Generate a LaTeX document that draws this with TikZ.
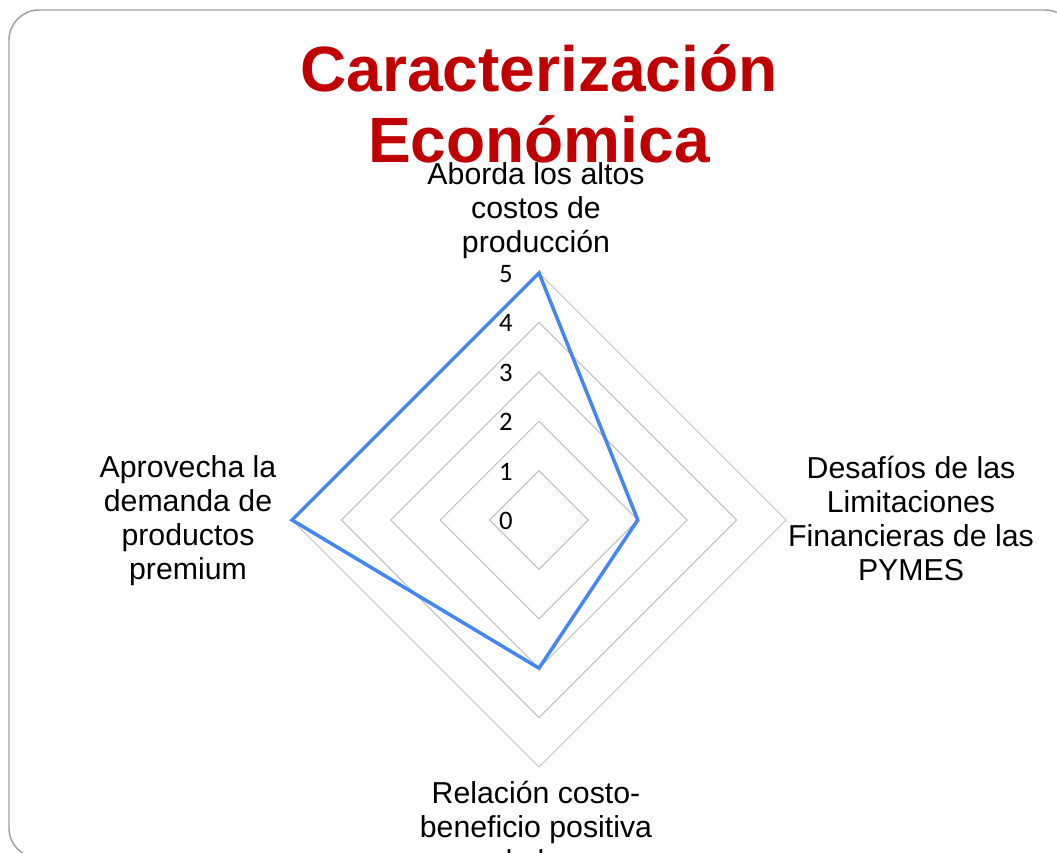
\documentclass[tikz,border=0pt]{standalone}
\usepackage{fontspec}
\setmainfont{Liberation Sans}
\newfontfamily\tickfont{Carlito}
\definecolor{titlered}{HTML}{C00000}
\definecolor{seriesblue}{HTML}{4285F4}
\definecolor{gridgray}{HTML}{BFBFBF}
\definecolor{framegray}{HTML}{A0A0A0}
\tikzset{
  frame/.style={draw=framegray, line width=1.1pt, rounded corners=22.5pt},
  titletext/.style={font=\fontsize{48}{53}\selectfont\bfseries, text=titlered, align=center, inner sep=0pt},
  gridline/.style={draw=gridgray, line width=0.75pt},
  series/.style={draw=seriesblue, line width=2.6pt, line join=miter},
  ticklabel/.style={font=\tickfont\fontsize{20}{22}\selectfont, anchor=east, inner sep=0pt},
  axlabel/.style={font=\fontsize{22.7}{25.5}\selectfont, align=center, inner sep=0pt}
}
\begin{document}
\begin{tikzpicture}[x=0.75pt,y=-0.75pt]
\useasboundingbox (0,0) rectangle (1057,853);
\clip (0,0) rectangle (1057,853);
\draw[frame] (9,10) rectangle (1075,858);
\node[titletext] (title) at (539,104) {Caracterización\\Económica};
\coordinate (c) at (539,520);
\foreach \k in {1,...,5}{
  \pgfmathsetmacro\r{49.4*\k}
  \draw[gridline] (539,{520-\r}) -- ({539+\r},520) -- (539,{520+\r}) -- ({539-\r},520) -- cycle;
}
\foreach \k in {0,...,5}{
  \node[ticklabel] (t\k) at (513,{521-49.4*\k}) {\k};
}
\coordinate (p1) at (539,{520-5*49.4});
\coordinate (p2) at ({539+2*49.4},520);
\coordinate (p3) at (539,{520+3*49.4});
\coordinate (p4) at ({539-5*49.4},520);
\draw[series] (p1) -- (p2) -- (p3) -- (p4) -- cycle;
\node[axlabel] (ltop) at (536,211) {Aborda los altos\\costos de\\producción};
\node[axlabel] (lright) at (911,518) {Desafíos de las\\Limitaciones\\Financieras de las\\PYMES};
\node[axlabel] (lleft) at (188,521) {Aprovecha la\\demanda de\\productos\\premium};
\node[axlabel, anchor=north] (lbottom) at (536,781) {Relación costo-\\beneficio positiva\\de las};
\end{tikzpicture}
\end{document}
